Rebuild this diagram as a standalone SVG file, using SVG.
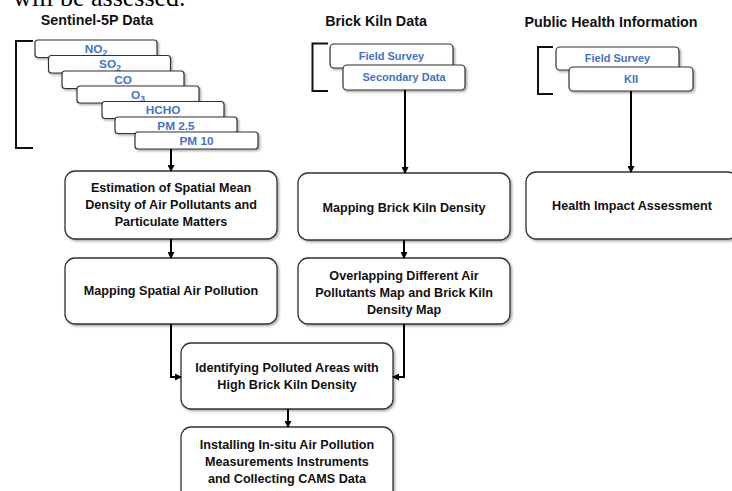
<svg xmlns="http://www.w3.org/2000/svg" width="732" height="491" viewBox="0 0 732 491">
<style>
.hdr{font-family:"Liberation Sans",Arial,sans-serif;font-weight:bold;font-size:14.3px;fill:#111}
.sm rect{fill:#fff;stroke:#333;stroke-width:1.2;filter:url(#sh)}
.sm text{font-family:"Liberation Sans",Arial,sans-serif;font-weight:bold;font-size:11px;fill:#4472C4;text-anchor:middle}
.sn text{font-size:11.8px}
.bx rect{fill:#fff;stroke:#333;stroke-width:1.3;filter:url(#sh)}
.bx text{font-family:"Liberation Sans",Arial,sans-serif;font-weight:bold;font-size:12.6px;fill:#111;text-anchor:middle}
.br{fill:none;stroke:#111;stroke-width:2}
.cn path{fill:none;stroke:#000;stroke-width:2;marker-end:url(#ah)}
</style>
<defs>
<filter id="sh" x="-10%" y="-10%" width="125%" height="135%">
<feDropShadow dx="1.5" dy="1.5" stdDeviation="0.8" flood-color="#000" flood-opacity="0.35"/>
</filter>
<marker id="ah" markerWidth="7" markerHeight="7" refX="6" refY="3.5" orient="auto" markerUnits="userSpaceOnUse">
<path d="M0,0 L7,3.5 L0,7 Z" fill="#000"/>
</marker>
</defs>
<rect width="732" height="491" fill="#fff"/>
<text x="13" y="6" font-family="Liberation Serif,serif" font-size="26" fill="#000">will be assessed.</text>

<text class="hdr" x="97" y="25" text-anchor="middle">Sentinel-5P Data</text>
<text class="hdr" x="376" y="26" text-anchor="middle">Brick Kiln Data</text>
<text class="hdr" x="611" y="27" text-anchor="middle">Public Health Information</text>

<g id="sentinel-bracket"><path class="br" d="M33,41 H16 V148 H33"/></g>
<g id="no2" class="sm sn"><rect x="35" y="40" width="122" height="17.5" rx="3"/><text x="96" y="52.5">NO<tspan font-size="8.5" dy="3">2</tspan></text></g>
<g id="so2" class="sm sn"><rect x="48.5" y="55.5" width="122" height="17.5" rx="3"/><text x="110" y="68">SO<tspan font-size="8.5" dy="3">2</tspan></text></g>
<g id="co" class="sm sn"><rect x="62" y="71" width="122" height="17.5" rx="3"/><text x="123" y="84">CO</text></g>
<g id="o3" class="sm sn"><rect x="77" y="86" width="122" height="17" rx="3"/><text x="138" y="98.5">O<tspan font-size="8.5" dy="3">3</tspan></text></g>
<g id="hcho" class="sm sn"><rect x="102" y="101.5" width="122" height="17" rx="3"/><text x="163" y="114">HCHO</text></g>
<g id="pm25" class="sm sn"><rect x="115" y="117" width="122" height="16.5" rx="3"/><text x="176" y="129.5">PM 2.5</text></g>
<g id="pm10" class="sm sn"><rect x="135" y="132" width="123" height="17" rx="3"/><text x="196.5" y="145">PM 10</text></g>

<g id="brick-bracket"><path class="br" d="M328,43.5 H312.5 V91 H328"/></g>
<g id="bk-field" class="sm"><rect x="330" y="44" width="123" height="24" rx="4"/><text x="391.5" y="60">Field Survey</text></g>
<g id="bk-secondary" class="sm"><rect x="343" y="65" width="122" height="25" rx="4"/><text x="404" y="81">Secondary Data</text></g>

<g id="health-bracket"><path class="br" d="M553,47 H538 V94 H553"/></g>
<g id="ph-field" class="sm"><rect x="556" y="47" width="123" height="23" rx="4"/><text x="617.5" y="62">Field Survey</text></g>
<g id="ph-kii" class="sm"><rect x="569" y="67" width="124" height="24" rx="4"/><text x="631" y="83">KII</text></g>

<g id="estimation" class="bx"><rect x="65" y="171" width="212" height="68" rx="10"/>
<text x="171" y="192">Estimation of Spatial Mean</text><text x="171" y="209">Density of Air Pollutants and</text><text x="171" y="226">Particulate Matters</text></g>
<g id="mapping-air" class="bx"><rect x="65" y="258" width="212" height="66" rx="10"/><text x="171" y="295">Mapping Spatial Air Pollution</text></g>
<g id="mapping-kiln" class="bx"><rect x="298" y="173" width="212" height="67" rx="10"/><text x="404" y="212">Mapping Brick Kiln Density</text></g>
<g id="health" class="bx"><rect x="526" y="172" width="212" height="67" rx="10"/><text x="632" y="210">Health Impact Assessment</text></g>
<g id="overlapping" class="bx"><rect x="298" y="258" width="212" height="66" rx="10"/>
<text x="404" y="280">Overlapping Different Air</text><text x="404" y="297">Pollutants Map and Brick Kiln</text><text x="404" y="314">Density Map</text></g>
<g id="identifying" class="bx"><rect x="181" y="343" width="212" height="66" rx="10"/>
<text x="287" y="372">Identifying Polluted Areas with</text><text x="287" y="389">High Brick Kiln Density</text></g>
<g id="installing" class="bx"><rect x="181" y="427" width="212" height="80" rx="10"/>
<text x="287" y="449">Installing In-situ Air Pollution</text><text x="287" y="466">Measurements Instruments</text><text x="287" y="483">and Collecting CAMS Data</text></g>

<g id="connectors" class="cn">
<path d="M171,149 V171"/>
<path d="M171,239 V258"/>
<path d="M171,324 V377 H181"/>
<path d="M404,324 V377 H393"/>
<path d="M288,409 V427"/>
<path d="M405,90 V173"/>
<path d="M404,240 V258"/>
<path d="M631,91 V172"/>
</g>
</svg>
